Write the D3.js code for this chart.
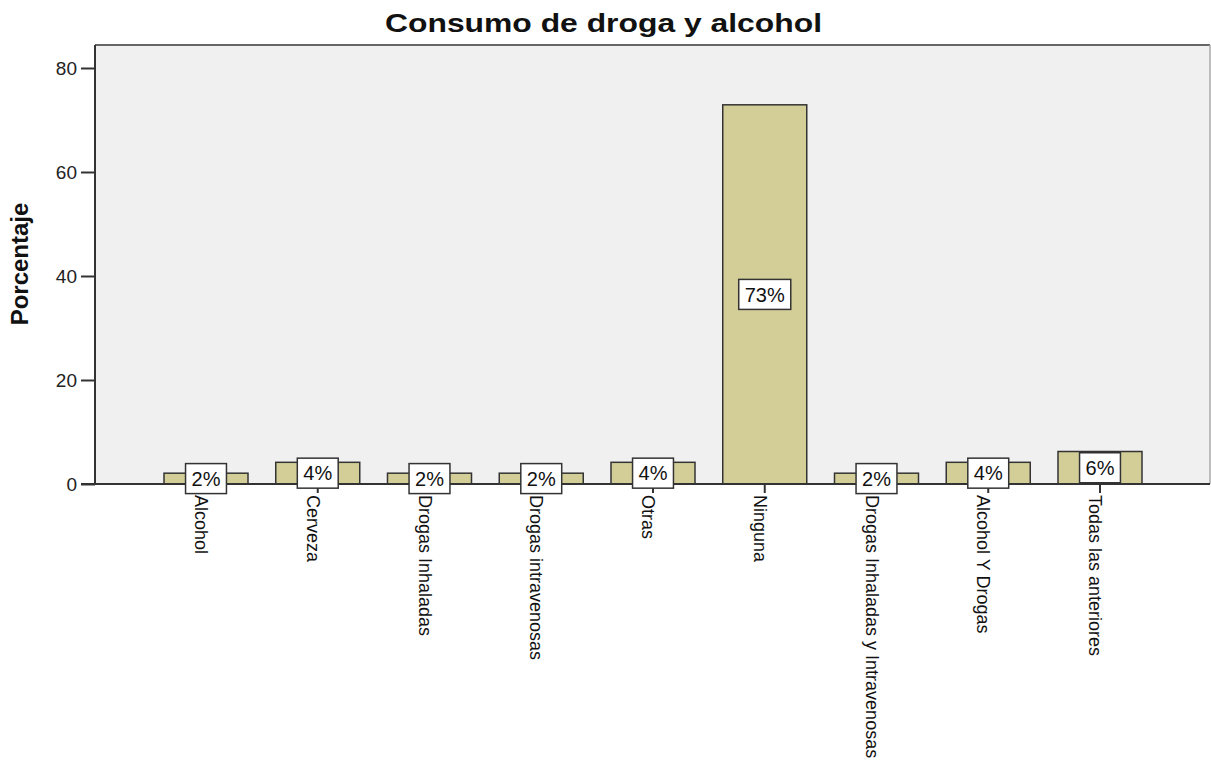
<!DOCTYPE html>
<html>
<head>
<meta charset="utf-8">
<script src="https://cdn.jsdelivr.net/npm/d3@7"></script>
<style>
  html, body { margin: 0; padding: 0; background: #ffffff; }
  svg { display: block; font-family: Arial, "Liberation Sans", sans-serif; }
</style>
</head>
<body>
<svg id="chart" width="1211" height="761"></svg>
<script>
// ---- data ----
const title = "Consumo de droga y alcohol";
const yTitle = "Porcentaje";
const categories = [
  "Alcohol", "Cerveza", "Drogas Inhaladas", "Drogas intravenosas", "Otras",
  "Ninguna", "Drogas Inhaladas y Intravenosas", "Alcohol Y Drogas", "Todas las anteriores"
];
const percentages = [2.08, 4.17, 2.08, 2.08, 4.17, 72.92, 2.08, 4.17, 6.25];
const yTicks = [0, 20, 40, 60, 80];

// ---- layout ----
const plot = { left: 95, top: 45, right: 1210, bottom: 484 };
const svg = d3.select("#chart");

const y = d3.scaleLinear().domain([0, 80]).range([484, 68]);
const x = d3.scaleBand().domain(categories)
  .range([150.125, 1155.875]).paddingInner(0.2483).paddingOuter(0.12415);

// plot background
svg.append("rect")
  .attr("x", plot.left).attr("y", plot.top)
  .attr("width", plot.right - plot.left).attr("height", plot.bottom - plot.top)
  .attr("fill", "#f0f0f0");
// top and right frame
svg.append("line").attr("x1", plot.left).attr("x2", plot.right)
  .attr("y1", plot.top).attr("y2", plot.top)
  .attr("stroke", "#666").attr("stroke-width", 2);
svg.append("line").attr("x1", plot.right).attr("x2", plot.right)
  .attr("y1", plot.top).attr("y2", plot.bottom)
  .attr("stroke", "#aaa").attr("stroke-width", 1.5);

// bars
svg.append("g").selectAll("rect").data(categories).join("rect")
  .attr("x", d => x(d))
  .attr("y", (d, i) => y(percentages[i]))
  .attr("width", x.bandwidth())
  .attr("height", (d, i) => y(0) - y(percentages[i]))
  .attr("fill", "#d3ce98")
  .attr("stroke", "#333")
  .attr("stroke-width", 1.5);

// y axis
const yAxis = svg.append("g")
  .attr("transform", `translate(${plot.left},0)`)
  .call(d3.axisLeft(y).tickValues(yTicks).tickSize(14).tickPadding(4).tickSizeOuter(0));
yAxis.select(".domain").remove();
yAxis.selectAll(".tick line").attr("stroke", "#333").attr("stroke-width", 2);
yAxis.selectAll(".tick text").attr("font-size", 19).attr("fill", "#222")
  .attr("font-family", "Arial, 'Liberation Sans', sans-serif");
svg.append("line").attr("x1", plot.left).attr("x2", plot.left)
  .attr("y1", plot.top).attr("y2", plot.bottom)
  .attr("stroke", "#333").attr("stroke-width", 2);

// x axis baseline
svg.append("line").attr("x1", 81).attr("x2", plot.right)
  .attr("y1", y(0)).attr("y2", y(0))
  .attr("stroke", "#333").attr("stroke-width", 2);

// x ticks and rotated labels
const xt = svg.append("g").selectAll("g").data(categories).join("g");
xt.append("line")
  .attr("x1", d => x(d) + x.bandwidth() / 2).attr("x2", d => x(d) + x.bandwidth() / 2)
  .attr("y1", y(0)).attr("y2", y(0) + 9)
  .attr("stroke", "#333").attr("stroke-width", 2);
xt.append("text")
  .attr("transform", d => `translate(${x(d) + x.bandwidth() / 2 - 11},${y(0) + 11}) rotate(90)`)
  .attr("font-size", 18).attr("fill", "#111")
  .text(d => d);

// value label boxes
const lab = svg.append("g").selectAll("g").data(categories).join("g")
  .attr("transform", (d, i) => `translate(${x(d) + x.bandwidth() / 2},${y(percentages[i] / 2)})`);
lab.append("text")
  .attr("text-anchor", "middle").attr("dy", "0.36em")
  .attr("font-size", 20).attr("fill", "#111")
  .text((d, i) => Math.round(percentages[i]) + "%");
lab.each(function () {
  const g = d3.select(this);
  const w = g.select("text").node().getComputedTextLength() + 12;
  g.insert("rect", "text")
    .attr("x", -w / 2).attr("y", -15).attr("width", w).attr("height", 30)
    .attr("fill", "#fff").attr("stroke", "#333").attr("stroke-width", 1.5);
});

// title
svg.append("text")
  .attr("x", 603.5).attr("y", 32)
  .attr("text-anchor", "middle")
  .attr("font-size", 26).attr("font-weight", "bold").attr("fill", "#111")
  .attr("textLength", 437).attr("lengthAdjust", "spacingAndGlyphs")
  .text(title);

// y-axis title
svg.append("text")
  .attr("transform", "translate(28,264) rotate(-90)")
  .attr("text-anchor", "middle")
  .attr("font-size", 24).attr("font-weight", "bold").attr("fill", "#111")
  .text(yTitle);
</script>
</body>
</html>
